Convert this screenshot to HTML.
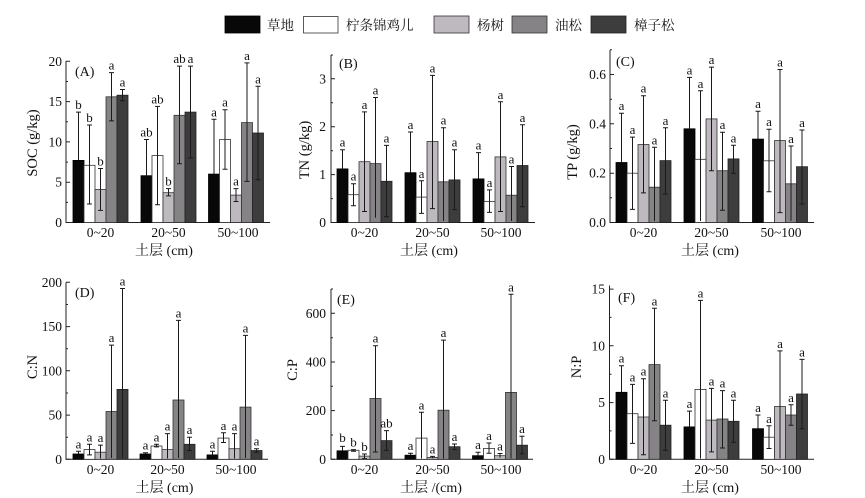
<!DOCTYPE html>
<html><head><meta charset="utf-8"><style>
html,body{margin:0;padding:0;background:#fff;}
svg{display:block;}
text{font-family:"Liberation Serif","Noto Serif CJK SC",serif;fill:#111;}
.k{fill:#080808;stroke:#000;stroke-width:.8}
.w{fill:#fff;stroke:#333;stroke-width:.8}
.l{fill:#bdb9bf;stroke:#333;stroke-width:.8}
.g{fill:#858385;stroke:#333;stroke-width:.8}
.d{fill:#3d3d3d;stroke:#222;stroke-width:.8}
.e{fill:none;stroke:#1a1a1a;stroke-width:1}
.ax{fill:none;stroke:#222;stroke-width:1}
.lt{font-size:13px;text-anchor:middle}
.tk{font-size:13.5px;text-anchor:end}
.ct{font-size:13.5px;text-anchor:middle}
.tt{font-size:14px;text-anchor:middle}
.yt{font-size:14.5px;text-anchor:middle;dominant-baseline:central}
.pl{font-size:14px}
.lg{font-size:13.5px}
</style></head><body>
<svg width="865" height="498" viewBox="0 0 865 498" xmlns="http://www.w3.org/2000/svg">
<!-- legend -->
<rect x="225" y="16" width="35" height="17" class="k"/><text x="267" y="30" class="lg">草地</text>
<rect x="303.5" y="16.5" width="34.5" height="16.5" class="w"/><text x="346" y="30" class="lg">柠条锦鸡儿</text>
<rect x="434" y="16" width="35" height="17" class="l"/><text x="477" y="30" class="lg">杨树</text>
<rect x="512" y="16" width="35" height="17" class="g"/><text x="555" y="30" class="lg">油松</text>
<rect x="591" y="16" width="35" height="17" class="d"/><text x="634" y="30" class="lg">樟子松</text>

<!-- ===== Panel A ===== -->
<path class="ax" d="M66,61V222.5H270"/>
<path class="ax" d="M66,222.5h4M66,182.2h4M66,141.9h4M66,101.6h4M66,61.3h4M66,202.4h2M66,162.1h2M66,121.7h2M66,81.5h2"/>
<text x="62" y="227" class="tk">0</text><text x="62" y="186.7" class="tk">5</text><text x="62" y="146.4" class="tk">10</text><text x="62" y="106.1" class="tk">15</text><text x="62" y="65.8" class="tk">20</text>
<text x="75" y="76" class="pl">(A)</text>
<text class="yt" transform="translate(33,143) rotate(-90)">SOC (g/kg)</text>
<text x="100.5" y="237" class="ct">0~20</text><text x="168.5" y="237" class="ct">20~50</text><text x="238" y="237" class="ct">50~100</text>
<text x="164" y="255" class="tt">土层 (cm)</text>
<rect x="73" y="160.4" width="11" height="62.1" class="k"/><path class="e" d="M78.5,160.4V112.1M76,112.1h5"/><text x="78.5" y="109" class="lt">b</text>
<rect x="84" y="165.3" width="11" height="57.2" class="w"/><path class="e" d="M89.5,204V125M87,125h5M87,204h5"/><text x="89.5" y="122" class="lt">b</text>
<rect x="95" y="189.5" width="11" height="33" class="l"/><path class="e" d="M100.5,210.4V168.5M98,168.5h5M98,210.4h5"/><text x="100.5" y="165.5" class="lt">b</text>
<rect x="106" y="96.8" width="11" height="125.7" class="g"/><path class="e" d="M111.5,120.9V72.6M109,72.6h5M109,120.9h5"/><text x="111.5" y="69.6" class="lt">a</text>
<rect x="117" y="95.2" width="11" height="127.3" class="d"/><path class="e" d="M122.5,100.8V89.5M120,89.5h5M120,100.8h5"/><text x="122.5" y="86.5" class="lt">a</text>

<rect x="141" y="175.7" width="11" height="46.8" class="k"/><path class="e" d="M146.5,175.7V139.5M144,139.5h5"/><text x="146.5" y="136.5" class="lt">ab</text>
<rect x="152" y="155.6" width="11" height="66.9" class="w"/><path class="e" d="M157.5,204.8V106.4M155,106.4h5M155,204.8h5"/><text x="157.5" y="103.4" class="lt">ab</text>
<rect x="163" y="192.7" width="11" height="29.8" class="l"/><path class="e" d="M168.5,195.9V188.6M166,188.6h5M166,195.9h5"/><text x="168.5" y="185.6" class="lt">b</text>
<rect x="174" y="115.3" width="11" height="107.2" class="g"/><path class="e" d="M179.5,163.7V66.1M177,66.1h5M177,163.7h5"/><text x="179.5" y="63.1" class="lt">ab</text>
<rect x="185" y="112.1" width="11" height="110.4" class="d"/><path class="e" d="M190.5,158V66.1M188,66.1h5M188,158h5"/><text x="190.5" y="63.1" class="lt">a</text>

<rect x="208.5" y="174.1" width="11" height="48.4" class="k"/><path class="e" d="M214,174.1V119.3M211.5,119.3h5"/><text x="214" y="116.3" class="lt">a</text>
<rect x="219.5" y="139.5" width="11" height="83" class="w"/><path class="e" d="M225,169.3V109.7M222.5,109.7h5M222.5,169.3h5"/><text x="225" y="106.7" class="lt">a</text>
<rect x="230.5" y="195.1" width="11" height="27.4" class="l"/><path class="e" d="M236,201.5V188.6M233.5,188.6h5M233.5,201.5h5"/><text x="236" y="185.6" class="lt">a</text>
<rect x="241.5" y="122.6" width="11" height="99.9" class="g"/><path class="e" d="M247,181.4V62.9M244.5,62.9h5M244.5,181.4h5"/><text x="247" y="59.9" class="lt">a</text>
<rect x="252.5" y="133" width="11" height="89.5" class="d"/><path class="e" d="M258,179.8V86.3M255.5,86.3h5M255.5,179.8h5"/><text x="258" y="83.3" class="lt">a</text>

<!-- ===== Panel B ===== -->
<path class="ax" d="M331,55V222.5H535"/>
<path class="ax" d="M331,222.5h4M331,174.6h4M331,126.7h4M331,78.8h4M331,198.6h2M331,150.7h2M331,102.8h2M331,55h2"/>
<text x="326" y="227" class="tk">0</text><text x="326" y="179.1" class="tk">1</text><text x="326" y="131.2" class="tk">2</text><text x="326" y="83.3" class="tk">3</text>
<text x="339" y="68" class="pl">(B)</text>
<text class="yt" transform="translate(305,150) rotate(-90)">TN (g/kg)</text>
<text x="364.5" y="237" class="ct">0~20</text><text x="432.5" y="237" class="ct">20~50</text><text x="501" y="237" class="ct">50~100</text>
<text x="429" y="255" class="tt">土层 (cm)</text>
<rect x="337" y="168.9" width="11" height="53.6" class="k"/><path class="e" d="M342.5,168.9V149.7M340,149.7h5"/><text x="342.5" y="146.7" class="lt">a</text>
<rect x="348" y="194.7" width="11" height="27.8" class="w"/><path class="e" d="M353.5,205.7V183.7M351,183.7h5M351,205.7h5"/><text x="353.5" y="180.7" class="lt">a</text>
<rect x="359" y="161.7" width="11" height="60.8" class="l"/><path class="e" d="M364.5,211.5V111.9M362,111.9h5M362,211.5h5"/><text x="364.5" y="108.9" class="lt">a</text>
<rect x="370" y="163.6" width="11" height="58.9" class="g"/><path class="e" d="M375.5,217.7V97.5M373,97.5h5"/><text x="375.5" y="94.5" class="lt">a</text>
<rect x="381" y="181.3" width="11" height="41.2" class="d"/><path class="e" d="M386.5,216.8V145.4M384,145.4h5M384,216.8h5"/><text x="386.5" y="142.4" class="lt">a</text>

<rect x="405" y="172.7" width="11" height="49.8" class="k"/><path class="e" d="M410.5,172.7V132M408,132h5"/><text x="410.5" y="129" class="lt">a</text>
<rect x="416" y="197.1" width="11" height="25.4" class="w"/><path class="e" d="M421.5,213.4V180.8M419,180.8h5M419,213.4h5"/><text x="421.5" y="177.8" class="lt">a</text>
<rect x="427" y="141.5" width="11" height="81" class="l"/><path class="e" d="M432.5,208.6V75.4M430,75.4h5M430,208.6h5"/><text x="432.5" y="72.4" class="lt">a</text>
<rect x="438" y="181.8" width="11" height="40.7" class="g"/><path class="e" d="M443.5,221V127.7M441,127.7h5"/><text x="443.5" y="124.7" class="lt">a</text>
<rect x="449" y="179.9" width="11" height="42.6" class="d"/><path class="e" d="M454.5,209.6V149.7M452,149.7h5M452,209.6h5"/><text x="454.5" y="146.7" class="lt">a</text>

<rect x="473" y="178.9" width="11" height="43.6" class="k"/><path class="e" d="M478.5,178.9V152.6M476,152.6h5"/><text x="478.5" y="149.6" class="lt">a</text>
<rect x="484" y="201.4" width="11" height="21.1" class="w"/><path class="e" d="M489.5,212.4V189.9M487,189.9h5M487,212.4h5"/><text x="489.5" y="186.9" class="lt">a</text>
<rect x="495" y="156.9" width="11" height="65.6" class="l"/><path class="e" d="M500.5,211.5V101.8M498,101.8h5M498,211.5h5"/><text x="500.5" y="98.8" class="lt">a</text>
<rect x="506" y="195.2" width="11" height="27.3" class="g"/><path class="e" d="M511.5,221V166.5M509,166.5h5"/><text x="511.5" y="163.5" class="lt">a</text>
<rect x="517" y="165.5" width="11" height="57" class="d"/><path class="e" d="M522.5,206.7V124.8M520,124.8h5M520,206.7h5"/><text x="522.5" y="121.8" class="lt">a</text>

<!-- ===== Panel C ===== -->
<path class="ax" d="M610,50V222.5H814"/>
<path class="ax" d="M610,222.5h4M610,173.2h4M610,123.8h4M610,74.5h4M610,197.8h2M610,148.5h2M610,99.2h2M610,49.8h2"/>
<text x="606" y="227" class="tk">0.0</text><text x="606" y="177.7" class="tk">0.2</text><text x="606" y="128.3" class="tk">0.4</text><text x="606" y="79" class="tk">0.6</text>
<text x="616" y="66" class="pl">(C)</text>
<text class="yt" transform="translate(573,152) rotate(-90)">TP (g/kg)</text>
<text x="643.5" y="237" class="ct">0~20</text><text x="711.5" y="237" class="ct">20~50</text><text x="781" y="237" class="ct">50~100</text>
<text x="710" y="255" class="tt">土层 (cm)</text>
<rect x="616" y="162.5" width="11" height="60" class="k"/><path class="e" d="M621.5,162.5V113.2M619,113.2h5"/><text x="621.5" y="110.2" class="lt">a</text>
<rect x="627" y="173.2" width="11" height="49.3" class="w"/><path class="e" d="M632.5,209.4V137.1M630,137.1h5M630,209.4h5"/><text x="632.5" y="134.1" class="lt">a</text>
<rect x="638" y="144.5" width="11" height="78" class="l"/><path class="e" d="M643.5,192.9V95.7M641,95.7h5M641,192.9h5"/><text x="643.5" y="92.7" class="lt">a</text>
<rect x="649" y="187.2" width="11" height="35.3" class="g"/><path class="e" d="M654.5,221V147.3M652,147.3h5"/><text x="654.5" y="144.3" class="lt">a</text>
<rect x="660" y="160.6" width="11" height="61.9" class="d"/><path class="e" d="M665.5,194.1V127.8M663,127.8h5M663,194.1h5"/><text x="665.5" y="124.8" class="lt">a</text>

<rect x="684" y="128.8" width="11" height="93.7" class="k"/><path class="e" d="M689.5,128.8V77.4M687,77.4h5"/><text x="689.5" y="74.4" class="lt">a</text>
<rect x="695" y="159.3" width="11" height="63.2" class="w"/><path class="e" d="M700.5,221V90.8M698,90.8h5"/><text x="700.5" y="87.8" class="lt">a</text>
<rect x="706" y="118.9" width="11" height="103.6" class="l"/><path class="e" d="M711.5,170.7V67.1M709,67.1h5M709,170.7h5"/><text x="711.5" y="64.1" class="lt">a</text>
<rect x="717" y="170.7" width="11" height="51.8" class="g"/><path class="e" d="M722.5,210.2V132.2M720,132.2h5M720,210.2h5"/><text x="722.5" y="129.2" class="lt">a</text>
<rect x="728" y="158.9" width="11" height="63.6" class="d"/><path class="e" d="M733.5,173.2V145.3M731,145.3h5M731,173.2h5"/><text x="733.5" y="142.3" class="lt">a</text>

<rect x="752.5" y="139.1" width="11" height="83.4" class="k"/><path class="e" d="M758,139.1V111.2M755.5,111.2h5"/><text x="758" y="108.2" class="lt">a</text>
<rect x="763.5" y="160.8" width="11" height="61.7" class="w"/><path class="e" d="M769,191.7V129.2M766.5,129.2h5M766.5,191.7h5"/><text x="769" y="126.2" class="lt">a</text>
<rect x="774.5" y="140.6" width="11" height="81.9" class="l"/><path class="e" d="M780,212.6V69.5M777.5,69.5h5M777.5,212.6h5"/><text x="780" y="66.5" class="lt">a</text>
<rect x="785.5" y="183.8" width="11" height="38.7" class="g"/><path class="e" d="M791,221V146M788.5,146h5"/><text x="791" y="143" class="lt">a</text>
<rect x="796.5" y="166.7" width="11" height="55.8" class="d"/><path class="e" d="M802,204V130M799.5,130h5M799.5,204h5"/><text x="802" y="127" class="lt">a</text>

<!-- ===== Panel D ===== -->
<path class="ax" d="M66,282.3V459.3H268"/>
<path class="ax" d="M66,459.3h4M66,415.1h4M66,370.8h4M66,326.6h4M66,282.3h4M66,437.2h2M66,393h2M66,348.7h2M66,304.5h2"/>
<text x="62" y="463.8" class="tk">0</text><text x="62" y="419.6" class="tk">50</text><text x="62" y="375.3" class="tk">100</text><text x="62" y="331.1" class="tk">150</text><text x="62" y="286.8" class="tk">200</text>
<text x="75" y="297" class="pl">(D)</text>
<text class="yt" transform="translate(33,367) rotate(-90)">C:N</text>
<text x="100.5" y="474" class="ct">0~20</text><text x="167.5" y="474" class="ct">20~50</text><text x="236" y="474" class="ct">50~100</text>
<text x="164.5" y="492" class="tt">土层 (cm)</text>
<rect x="73" y="454" width="11" height="5.3" class="k"/><path class="e" d="M78.5,454V451.3M76,451.3h5"/><text x="78.5" y="448.3" class="lt">a</text>
<rect x="84" y="449.6" width="11" height="9.7" class="w"/><path class="e" d="M89.5,454.9V444.3M87,444.3h5M87,454.9h5"/><text x="89.5" y="441.3" class="lt">a</text>
<rect x="95" y="452.2" width="11" height="7.1" class="l"/><path class="e" d="M100.5,458.5V445.1M98,445.1h5"/><text x="100.5" y="442.1" class="lt">a</text>
<rect x="106" y="411.5" width="11" height="47.8" class="g"/><path class="e" d="M111.5,458V345.1M109,345.1h5"/><text x="111.5" y="342.1" class="lt">a</text>
<rect x="117" y="389.4" width="11" height="69.9" class="d"/><path class="e" d="M122.5,458V288.5M120,288.5h5"/><text x="122.5" y="285.5" class="lt">a</text>

<rect x="140" y="454" width="11" height="5.3" class="k"/><path class="e" d="M145.5,454V452.7M143,452.7h5"/><text x="145.5" y="449.7" class="lt">a</text>
<rect x="151" y="446" width="11" height="13.3" class="w"/><path class="e" d="M156.5,446.9V444.3M154,444.3h5M154,446.9h5"/><text x="156.5" y="441.3" class="lt">a</text>
<rect x="162" y="449.6" width="11" height="9.7" class="l"/><path class="e" d="M167.5,458.5V433.6M165,433.6h5"/><text x="167.5" y="430.6" class="lt">a</text>
<rect x="173" y="400" width="11" height="59.3" class="g"/><path class="e" d="M178.5,458V320.4M176,320.4h5"/><text x="178.5" y="317.4" class="lt">a</text>
<rect x="184" y="444.3" width="11" height="15" class="d"/><path class="e" d="M189.5,450.5V437.2M187,437.2h5M187,450.5h5"/><text x="189.5" y="434.2" class="lt">a</text>

<rect x="207" y="454.9" width="11" height="4.4" class="k"/><path class="e" d="M212.5,454.9V451.3M210,451.3h5"/><text x="212.5" y="448.3" class="lt">a</text>
<rect x="218" y="438.1" width="11" height="21.2" class="w"/><path class="e" d="M223.5,442.5V432.8M221,432.8h5M221,442.5h5"/><text x="223.5" y="429.8" class="lt">a</text>
<rect x="229" y="448.7" width="11" height="10.6" class="l"/><path class="e" d="M234.5,458.5V433.6M232,433.6h5"/><text x="234.5" y="430.6" class="lt">a</text>
<rect x="240" y="407.1" width="11" height="52.2" class="g"/><path class="e" d="M245.5,458V335.4M243,335.4h5"/><text x="245.5" y="332.4" class="lt">a</text>
<rect x="251" y="450.5" width="11" height="8.8" class="d"/><path class="e" d="M256.5,452.2V448.7M254,448.7h5M254,452.2h5"/><text x="256.5" y="445.7" class="lt">a</text>

<!-- ===== Panel E ===== -->
<path class="ax" d="M331,289V459.3H533"/>
<path class="ax" d="M331,459.3h4M331,410.6h4M331,362h4M331,313.3h4M331,435h2M331,386.3h2M331,337.7h2M331,289h2"/>
<text x="326" y="463.8" class="tk">0</text><text x="326" y="415.1" class="tk">200</text><text x="326" y="366.5" class="tk">400</text><text x="326" y="317.8" class="tk">600</text>
<text x="337" y="304" class="pl">(E)</text>
<text class="yt" transform="translate(293,370) rotate(-90)">C:P</text>
<text x="364.5" y="474" class="ct">0~20</text><text x="432.5" y="474" class="ct">20~50</text><text x="501" y="474" class="ct">50~100</text>
<text x="431" y="492" class="tt">土层 /(cm)</text>
<rect x="337" y="450.8" width="11" height="8.5" class="k"/><path class="e" d="M342.5,450.8V446.4M340,446.4h5"/><text x="342.5" y="442" class="lt">b</text>
<rect x="348" y="450.3" width="11" height="9" class="w"/><path class="e" d="M353.5,451.3V449.6M351,449.6h5M351,451.3h5"/><text x="353.5" y="446.6" class="lt">b</text>
<rect x="359" y="456.1" width="11" height="3.2" class="l"/><path class="e" d="M364.5,458.6V454M362,454h5M362,458.6h5"/><text x="364.5" y="451" class="lt">b</text>
<rect x="370" y="398.5" width="11" height="60.8" class="g"/><path class="e" d="M375.5,452V345.7M373,345.7h5M373,452h5"/><text x="375.5" y="342.7" class="lt">a</text>
<rect x="381" y="440.6" width="11" height="18.7" class="d"/><path class="e" d="M386.5,450.3V430.6M384,430.6h5M384,450.3h5"/><text x="386.5" y="427.6" class="lt">ab</text>

<rect x="405" y="455.2" width="11" height="4.1" class="k"/><path class="e" d="M410.5,455.2V453.2M408,453.2h5"/><text x="410.5" y="450.2" class="lt">a</text>
<rect x="416" y="438.1" width="11" height="21.2" class="w"/><path class="e" d="M421.5,458.5V412.3M419,412.3h5"/><text x="421.5" y="409.3" class="lt">a</text>
<rect x="427" y="457.4" width="11" height="1.9" class="l"/><path class="e" d="M432.5,458.3V456.4M430,456.4h5"/><text x="432.5" y="453.4" class="lt">a</text>
<rect x="438" y="410.2" width="11" height="49.1" class="g"/><path class="e" d="M443.5,458.5V340.1M441,340.1h5"/><text x="443.5" y="337.1" class="lt">a</text>
<rect x="449" y="446.7" width="11" height="12.6" class="d"/><path class="e" d="M454.5,449.6V444M452,444h5M452,449.6h5"/><text x="454.5" y="441" class="lt">a</text>

<rect x="472.5" y="455.7" width="11" height="3.6" class="k"/><path class="e" d="M478,455.7V452.2M475.5,452.2h5"/><text x="478" y="449.2" class="lt">a</text>
<rect x="483.5" y="448.4" width="11" height="10.9" class="w"/><path class="e" d="M489,453.2V443M486.5,443h5M486.5,453.2h5"/><text x="489" y="440" class="lt">a</text>
<rect x="494.5" y="455.7" width="11" height="3.6" class="l"/><path class="e" d="M500,457.6V453.5M497.5,453.5h5"/><text x="500" y="450.5" class="lt">a</text>
<rect x="505.5" y="392.4" width="11" height="66.9" class="g"/><path class="e" d="M511,458.5V294.3M508.5,294.3h5"/><text x="511" y="291.3" class="lt">a</text>
<rect x="516.5" y="445.2" width="11" height="14.1" class="d"/><path class="e" d="M522,453.9V436.2M519.5,436.2h5M519.5,453.9h5"/><text x="522" y="433.2" class="lt">a</text>

<!-- ===== Panel F ===== -->
<path class="ax" d="M609.5,285.5V459.3H814"/>
<path class="ax" d="M609.5,459.3h4M609.5,402.6h4M609.5,345.8h4M609.5,289.1h4M609.5,430.9h2M609.5,374.2h2M609.5,317.4h2"/>
<text x="605" y="463.8" class="tk">0</text><text x="605" y="407.1" class="tk">5</text><text x="605" y="350.3" class="tk">10</text><text x="605" y="293.6" class="tk">15</text>
<text x="618" y="302" class="pl">(F)</text>
<text class="yt" transform="translate(577,367) rotate(-90)">N:P</text>
<text x="643.5" y="474" class="ct">0~20</text><text x="711.5" y="474" class="ct">20~50</text><text x="781" y="474" class="ct">50~100</text>
<text x="710" y="492" class="tt">土层 (cm)</text>
<rect x="616" y="392.3" width="11" height="67" class="k"/><path class="e" d="M621.5,392.3V365.7M619,365.7h5"/><text x="621.5" y="362.7" class="lt">a</text>
<rect x="627" y="413.7" width="11" height="45.6" class="w"/><path class="e" d="M632.5,443.4V384.4M630,384.4h5M630,443.4h5"/><text x="632.5" y="381.4" class="lt">a</text>
<rect x="638" y="417" width="11" height="42.3" class="l"/><path class="e" d="M643.5,454.8V378.7M641,378.7h5M641,454.8h5"/><text x="643.5" y="375.7" class="lt">a</text>
<rect x="649" y="364.6" width="11" height="94.7" class="g"/><path class="e" d="M654.5,420.7V308.3M652,308.3h5M652,420.7h5"/><text x="654.5" y="305.3" class="lt">a</text>
<rect x="660" y="425.2" width="11" height="34.1" class="d"/><path class="e" d="M665.5,450.2V400.3M663,400.3h5M663,450.2h5"/><text x="665.5" y="397.3" class="lt">a</text>

<rect x="684" y="426.9" width="11" height="32.4" class="k"/><path class="e" d="M689.5,426.9V411.1M687,411.1h5"/><text x="689.5" y="408.1" class="lt">a</text>
<rect x="695" y="389.4" width="11" height="69.9" class="w"/><path class="e" d="M700.5,458.5V300.4M698,300.4h5"/><text x="700.5" y="297.4" class="lt">a</text>
<rect x="706" y="420.1" width="11" height="39.2" class="l"/><path class="e" d="M711.5,451.9V388.4M709,388.4h5M709,451.9h5"/><text x="711.5" y="385.4" class="lt">a</text>
<rect x="717" y="419" width="11" height="40.3" class="g"/><path class="e" d="M722.5,448V390.6M720,390.6h5M720,448h5"/><text x="722.5" y="387.6" class="lt">a</text>
<rect x="728" y="421.3" width="11" height="38" class="d"/><path class="e" d="M733.5,442.3V400.3M731,400.3h5M731,442.3h5"/><text x="733.5" y="397.3" class="lt">a</text>

<rect x="752.5" y="428.7" width="11" height="30.6" class="k"/><path class="e" d="M758,428.7V415M755.5,415h5"/><text x="758" y="412" class="lt">a</text>
<rect x="763.5" y="437.2" width="11" height="22.1" class="w"/><path class="e" d="M769,448.5V425.8M766.5,425.8h5M766.5,448.5h5"/><text x="769" y="422.8" class="lt">a</text>
<rect x="774.5" y="406.5" width="11" height="52.8" class="l"/><path class="e" d="M780,458.5V350.9M777.5,350.9h5"/><text x="780" y="347.9" class="lt">a</text>
<rect x="785.5" y="415" width="11" height="44.3" class="g"/><path class="e" d="M791,425.3V404.8M788.5,404.8h5M788.5,425.3h5"/><text x="791" y="401.8" class="lt">a</text>
<rect x="796.5" y="394" width="11" height="65.3" class="d"/><path class="e" d="M802,428.7V359.4M799.5,359.4h5M799.5,428.7h5"/><text x="802" y="356.4" class="lt">a</text>
</svg>
</body></html>
